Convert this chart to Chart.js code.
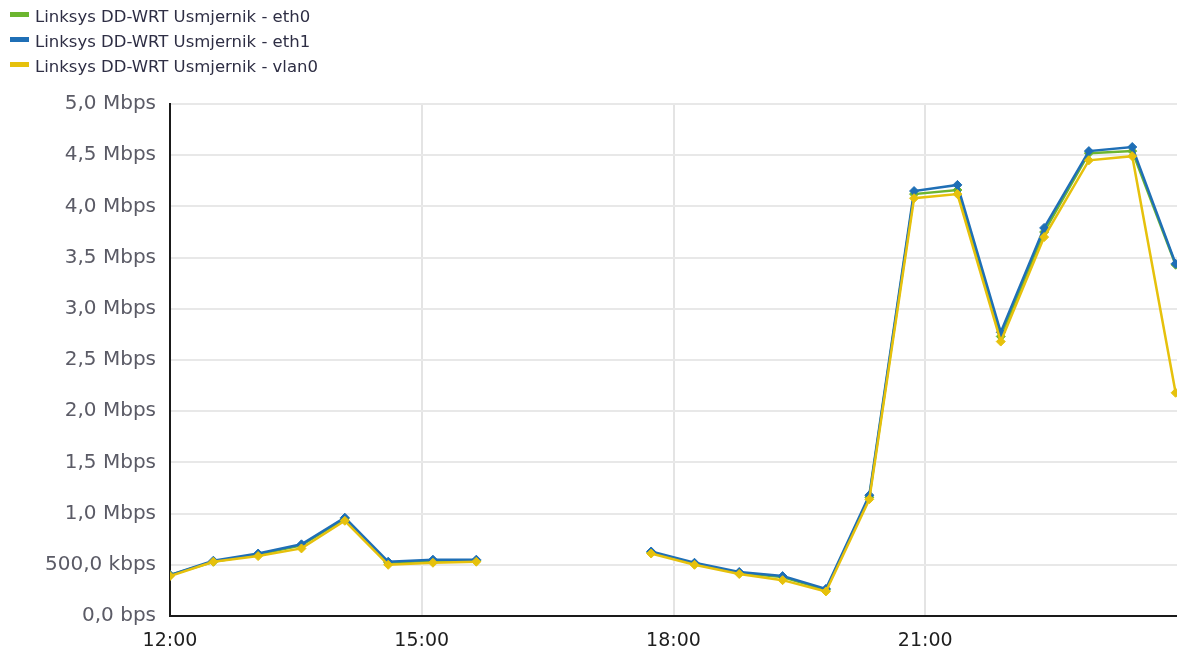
<!DOCTYPE html>
<html>
  <head>
    <script src="https://cdn.jsdelivr.net/npm/chart.js"></script>
    <title>Promet</title>
    <style>
      html, body { margin: 0; padding: 0; background: #fff; }
      #wrap { position: relative; width: 1177px; height: 650px; }
      #grafico { position: absolute; left: 0; top: 0; }
      #legenda { position: absolute; left: 10px; top: 5px; font-family: "DejaVu Sans", sans-serif; font-size: 16.5px; color: #2e2e44; }
      .stavka { height: 25px; line-height: 24px; white-space: nowrap; }
      .znak { display: inline-block; width: 19px; height: 5px; margin-right: 6px; vertical-align: middle; position: relative; top: -3px; }
    </style>
  </head>
  <body>
    <div id="wrap">
      <canvas id="grafico" width="1177" height="650"></canvas>
      <div id="legenda"></div>
    </div>
    <script>
      // vrijeme u minutama od ponoci (12:00 = 720)
      const vremena = [720, 751, 783, 814, 845, 876, 908, 939, 970, 1001, 1033, 1064,
                       1095, 1127, 1158, 1189, 1220, 1252, 1283, 1314, 1345, 1377, 1408, 1439];
      const nazivi = [
        "Linksys DD-WRT Usmjernik - eth0",
        "Linksys DD-WRT Usmjernik - eth1",
        "Linksys DD-WRT Usmjernik - vlan0"
      ];
      const boje = ["#6cb52f", "#1f6fb6", "#e6c10c"];
      // Mbps
      const eth0 = [0.40, 0.53, 0.60, 0.69, 0.95, 0.52, 0.54, 0.54, null, null, null, 0.62,
                    0.51, 0.42, 0.38, 0.255, 1.16, 4.12, 4.16, 2.73, 3.75, 4.52, 4.54, 3.43];
      const eth1 = [0.40, 0.54, 0.61, 0.70, 0.96, 0.53, 0.55, 0.55, null, null, null, 0.63,
                    0.52, 0.43, 0.39, 0.265, 1.18, 4.15, 4.21, 2.77, 3.79, 4.54, 4.58, 3.44];
      const vlan0 = [0.39, 0.53, 0.585, 0.66, 0.93, 0.50, 0.52, 0.53, null, null, null, 0.61,
                     0.50, 0.41, 0.35, 0.24, 1.14, 4.08, 4.12, 2.68, 3.70, 4.45, 4.49, 2.18];
      const xOznake = [720, 900, 1080, 1260];

      const serije = [eth0, eth1, vlan0];

      function tocke(niz) {
        return niz.map((v, i) => ({ x: vremena[i], y: v }));
      }

      function formatBrzina(v) {
        if (v === 0) return "0,0 bps";
        if (v < 1) return (v * 1000).toFixed(1).replace(".", ",") + " kbps";
        return v.toFixed(1).replace(".", ",") + " Mbps";
      }

      function formatSat(m) {
        const h = Math.floor(m / 60);
        const min = m % 60;
        return h + ":" + (min < 10 ? "0" : "") + min;
      }

      // legenda kao obican tekst
      const legenda = document.getElementById("legenda");
      nazivi.forEach((n, i) => {
        const red = document.createElement("div");
        red.className = "stavka";
        red.innerHTML = '<span class="znak" style="background:' + boje[i] + '"></span>' + n;
        legenda.appendChild(red);
      });

      const ctx = document.getElementById("grafico").getContext("2d");
      const grafico = new Chart(ctx, {
        type: "line",
        data: {
          datasets: serije.map((s, i) => ({
            label: nazivi[i],
            data: tocke(s),
            borderColor: boje[i],
            backgroundColor: boje[i],
            borderWidth: 2.5,
            pointStyle: "rectRot",
            pointRadius: 4.5,
            pointBorderWidth: 1,
            tension: 0,
            spanGaps: false,
            order: 3 - i
          }))
        },
        options: {
          responsive: false,
          animation: false,
          layout: { autoPadding: false, padding: { top: 104, right: 0, left: 0, bottom: 0 } },
          plugins: { legend: { display: false }, tooltip: { enabled: false } },
          scales: {
            x: {
              type: "linear",
              min: 720,
              max: 1440,
              afterBuildTicks: (scale) => {
                scale.ticks = xOznake.map((v) => ({ value: v }));
              },
              afterFit: (scale) => {
                scale.height = 34;
                scale.paddingRight = 0;
              },
              ticks: {
                callback: (v) => formatSat(v),
                color: "#1e1e1e",
                font: { family: "DejaVu Sans", size: 19 },
                padding: 14,
                maxRotation: 0,
                autoSkip: false
              },
              grid: { color: "#e4e4e4", lineWidth: 2, drawTicks: false },
              border: { color: "#1a1a1a", width: 2 }
            },
            y: {
              min: 0,
              max: 5,
              afterFit: (scale) => { scale.width = 170; },
              ticks: {
                stepSize: 0.5,
                callback: (v) => formatBrzina(v),
                color: "#5b5b66",
                font: { family: "DejaVu Sans", size: 20 },
                padding: 14
              },
              grid: { color: "#e8e8e8", lineWidth: 2, drawTicks: false },
              border: { color: "#1a1a1a", width: 2 }
            }
          }
        }
      });
    </script>
  </body>
</html>
